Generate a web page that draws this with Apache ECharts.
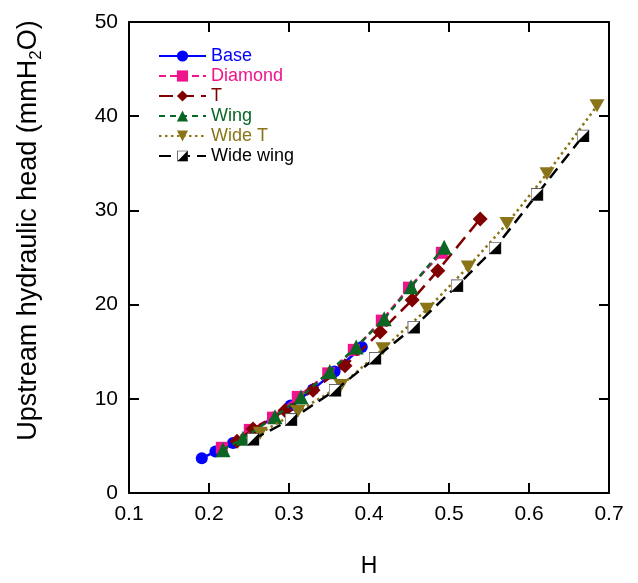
<!DOCTYPE html>
<html>
<head>
<meta charset="utf-8">
<script src="https://cdn.jsdelivr.net/npm/echarts@6/dist/echarts.min.js"></script>
<style>html,body{margin:0;padding:0;background:#fff}#c{width:638px;height:583px}</style>
</head>
<body>
<div id="c"></div>
<script>
// ---- data (x = H, y = upstream head in mmH2O) ----
const seriesNames = ['Base', 'Diamond', 'T', 'Wing', 'Wide T', 'Wide wing'];
const baseData = [[0.191,3.7],[0.208,4.4],[0.230,5.3],[0.255,6.6],[0.280,8.0],[0.302,9.3],[0.330,11.0],[0.357,12.9],[0.391,15.5]];
const diamondData = [[0.216,4.8],[0.251,6.7],[0.280,8.0],[0.311,10.2],[0.349,12.7],[0.381,15.2],[0.416,18.3],[0.450,21.8],[0.491,25.5]];
const tData = [[0.235,5.5],[0.255,6.8],[0.295,8.75],[0.330,10.9],[0.370,13.5],[0.414,17.1],[0.454,20.5],[0.486,23.6],[0.539,29.1]];
const wingData = [[0.2175,4.6],[0.2425,5.8],[0.2825,8.1],[0.315,10.2],[0.351,12.9],[0.384,15.5],[0.419,18.5],[0.4525,21.9],[0.494,26.1]];
const wideTData = [[0.264,6.35],[0.311,8.65],[0.365,11.4],[0.4175,15.3],[0.4725,19.5],[0.524,24.0],[0.5725,28.6],[0.6225,33.9],[0.685,41.1]];
const wideWingData = [[0.255,5.7],[0.3025,7.8],[0.3575,10.9],[0.4075,14.3],[0.456,17.6],[0.510,22.0],[0.5575,26.0],[0.610,31.7],[0.6675,37.9]];
const xTicks = [0.1,0.2,0.3,0.4,0.5,0.6,0.7];
const yTicks = [0,10,20,30,40,50];

const FONT = '"Liberation Sans", Arial, sans-serif';
const halfSquare = 'image://data:image/svg+xml;charset=utf-8,' + encodeURIComponent(
  "<svg xmlns='http://www.w3.org/2000/svg' width='26' height='26' viewBox='0 0 12 12'>" +
  "<rect x='0.5' y='0.5' width='11' height='11' fill='white' stroke='#555' stroke-width='1'/>" +
  "<path d='M11.5 0.5 L11.5 11.5 L0.5 11.5 Z' fill='black'/></svg>");

const styles = [
  {data: baseData, color:'#0000ff', symbol:'circle', size:12, dash:'solid', width:2.5},
  {data: diamondData, color:'#f0148c', symbol:'rect', size:12, dash:[7,4], width:2.5},
  {data: tData, color:'#800000', symbol:'diamond', size:15, dash:[14,7], width:2.5},
  {data: wingData, color:'#0b6623', symbol:'triangle', size:15, dash:[6,5], width:2.5},
  {data: wideTData, color:'#8a7418', symbol:'path://M0,0 L10,0 L5,9 Z', size:[15,13], dash:[2.5,3.5], width:2.5},
  {data: wideWingData, color:'#000000', symbol:halfSquare, size:13, dash:[12,7], width:2.5}
];

const chart = echarts.init(document.getElementById('c'), null, {renderer:'canvas'});
const axisCommon = {
  axisLine:{show:true, onZero:false, lineStyle:{color:'#000', width:2}},
  axisTick:{show:true, inside:true, length:10, lineStyle:{color:'#000', width:2}},
  splitLine:{show:false},
  minorTick:{show:false}
};
chart.setOption({
  animation:false,
  backgroundColor:'#fff',
  textStyle:{fontFamily:FONT},
  grid:{left:129, right:29, top:22, bottom:81, containLabel:false},
  legend:{
    orient:'vertical', left:153, top:42,
    itemWidth:47, itemHeight:14, itemGap:2,
    textStyle:{fontSize:18, fontFamily:FONT},
    data: seriesNames.map((n,i)=>({name:n, textStyle:{color: i===5 ? '#000' : styles[i].color}}))
  },
  xAxis:[
    Object.assign({}, axisCommon, {
      type:'value', position:'bottom', min:xTicks[0], max:xTicks[xTicks.length-1], interval:0.1,
      name:'H', nameLocation:'middle', nameGap:62,
      nameTextStyle:{fontSize:23, color:'#000', fontFamily:FONT},
      axisLabel:{fontSize:21, color:'#000', margin:11, fontFamily:FONT, formatter:v=>v.toFixed(1)}
    }),
    Object.assign({}, axisCommon, {
      type:'value', position:'top', min:xTicks[0], max:xTicks[xTicks.length-1], interval:0.1,
      axisLabel:{show:false}
    })
  ],
  yAxis:[
    Object.assign({}, axisCommon, {
      type:'value', position:'left', min:yTicks[0], max:yTicks[yTicks.length-1], interval:10,
      name:'{a|Upstream hydraulic head (mmH}{s|2}{a|O)}', nameLocation:'middle', nameGap:84,
      nameTextStyle:{color:'#000', fontFamily:FONT, padding:[0,0,0,54],
        rich:{a:{fontSize:27, color:'#000', fontFamily:FONT}, s:{fontSize:17, color:'#000', fontFamily:FONT, padding:[15,0,0,0]}}},
      axisLabel:{fontSize:21, color:'#000', margin:11, fontFamily:FONT}
    }),
    Object.assign({}, axisCommon, {
      type:'value', position:'right', min:yTicks[0], max:yTicks[yTicks.length-1], interval:10,
      axisLabel:{show:false}
    })
  ],
  series: styles.map((s,i)=>({
    name: seriesNames[i], type:'line', xAxisIndex:0, yAxisIndex:0,
    data: s.data, symbol:s.symbol, symbolSize:s.size, showSymbol:true,
    itemStyle:{color:s.color, opacity:1},
    lineStyle:{color:s.color, width:s.width, type:s.dash},
    emphasis:{disabled:true}, z: 2+i
  }))
});
</script>
</body>
</html>
